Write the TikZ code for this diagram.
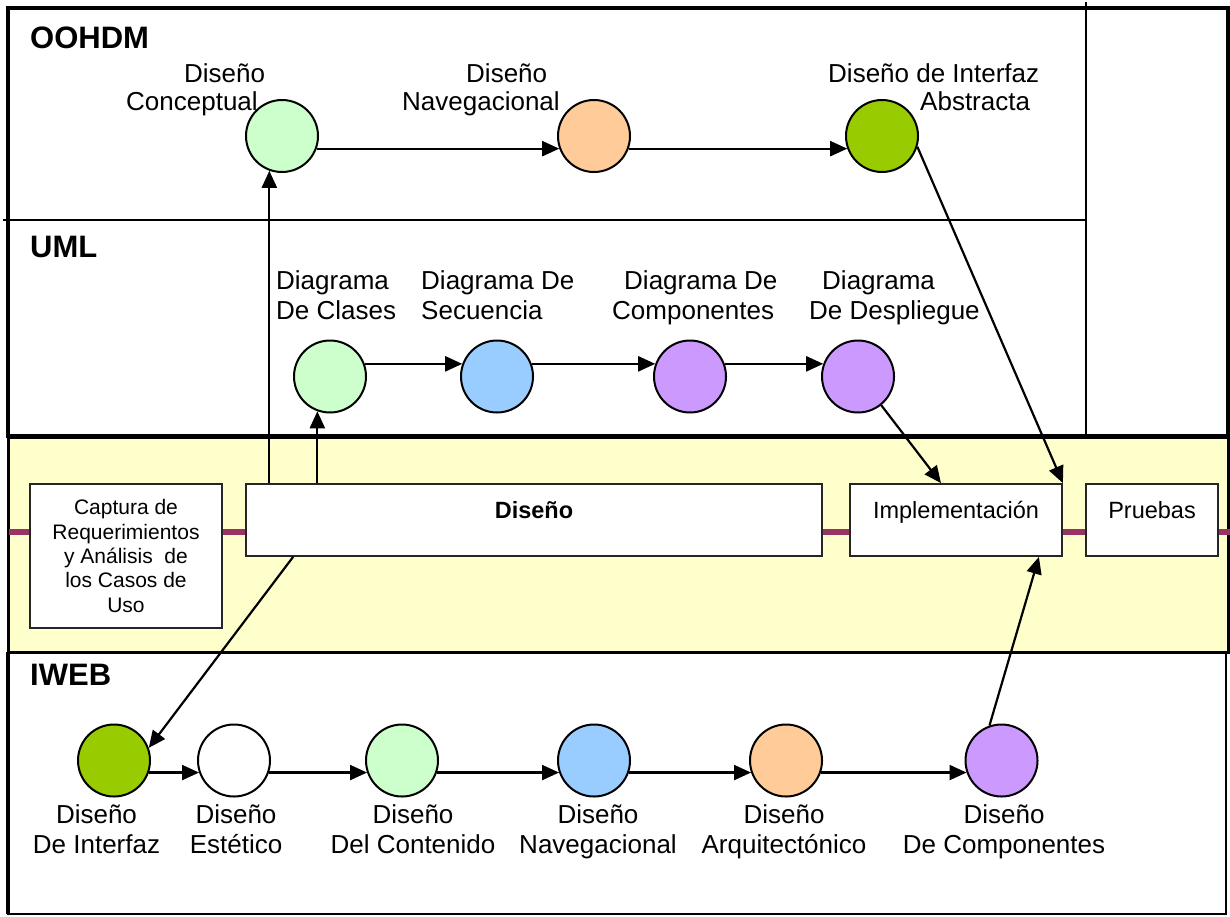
\documentclass[tikz,border=0pt]{standalone}
\usepackage{fontspec}
\setmainfont{Liberation Sans}
\usetikzlibrary{arrows.meta,calc}
\definecolor{cLG}{HTML}{CCFFCC}
\definecolor{cPeach}{HTML}{FFCC99}
\definecolor{cGreen}{HTML}{99CC00}
\definecolor{cBlue}{HTML}{99CCFF}
\definecolor{cLav}{HTML}{CC99FF}
\definecolor{bandY}{HTML}{FFFFCC}
\definecolor{magLine}{HTML}{993366}
\begin{document}
\begin{tikzpicture}[x=1pt,y=-1pt,
  circ/.style={circle, draw=black, line width=2pt, minimum size=72pt, inner sep=0pt},
  flow/.style={-{Triangle[length=17pt,width=15pt]}, line width=2.2pt},
  lab/.style={font=\fontsize{26}{30}\selectfont, inner sep=0pt},
  labO/.style={font=\fontsize{26}{28}\selectfont, inner sep=0pt},
  sect/.style={font=\fontsize{31}{34}\selectfont\bfseries, inner sep=0pt, anchor=base west},
  box/.style={draw=black!85, line width=1.8pt, fill=white, inner sep=0pt, minimum height=72pt},
  boxtxt/.style={font=\fontsize{23.5}{27}\selectfont, text height=17pt, text depth=21pt}
]
\useasboundingbox (0,0) rectangle (1230,916);
% panels
\draw[line width=3.5pt] (8,8) rectangle (1228,436);
\draw[line width=1.8pt] (1086,2) -- (1086,436);
\draw[line width=1.8pt] (3,220) -- (1086,220);
\draw[line width=2pt] (8,652) rectangle (1226,914);
\draw[line width=3.5pt] (8,652) -- (8,914);
\draw[fill=bandY, line width=3pt] (8,437) rectangle (1228,652);
\draw[magLine, line width=5.5pt] (9,532) -- (1230,532);
% section titles
\node[sect] (tOOHDM) at (30,48) {OOHDM};
\node[sect] (tUML) at (30,257) {UML};
\node[sect] (tIWEB) at (30,685) {IWEB};
% phase boxes
\node[box, minimum width=192pt, minimum height=144pt, align=center,
      font=\fontsize{21}{24.3}\selectfont] (cap) at (126,556)
      {Captura de\\Requerimientos\\y Análisis~ de\\los Casos de\\Uso};
\node[box, boxtxt, minimum width=576pt, font=\fontsize{23.5}{27}\selectfont\bfseries] (dis) at (534,520) {Diseño};
\node[box, boxtxt, minimum width=212pt] (impl) at (956,520) {Implementación};
\node[box, boxtxt, minimum width=132pt] (pru) at (1152,520) {Pruebas};
% OOHDM circles
\node[circ, fill=cLG] (conc) at (282,136) {};
\node[circ, fill=cPeach] (navO) at (594,136) {};
\node[circ, fill=cGreen] (abs) at (882,136) {};
% UML circles
\node[circ, fill=cLG] (cla) at (330,376.5) {};
\node[circ, fill=cBlue] (sec) at (497,376.5) {};
\node[circ, fill=cLav] (cmpU) at (690,376.5) {};
\node[circ, fill=cLav] (desp) at (858,376.5) {};
% IWEB circles
\node[circ, fill=cGreen] (int) at (114,760.5) {};
\node[circ, fill=white] (est) at (234,760.5) {};
\node[circ, fill=cLG] (cont) at (402,760.5) {};
\node[circ, fill=cBlue] (navI) at (594,760.5) {};
\node[circ, fill=cPeach] (arq) at (786,760.5) {};
\node[circ, fill=cLav] (cmpI) at (1001.5,760.5) {};
% labels OOHDM (anchored at the baseline of their last line)
\node[labO, align=left, anchor=base west] (lConc) at (126,110) {\hspace*{58pt}Diseño\\Conceptual};
\node[labO, align=left, anchor=base west] (lNavO) at (402,110) {\hspace*{64pt}Diseño\\Navegacional};
\node[labO, align=left, anchor=base west] (lAbs) at (828,110) {Diseño de Interfaz\\\hspace*{92pt}Abstracta};
% labels UML
\node[lab, align=left, anchor=base west] (lCla) at (276,319) {Diagrama\\De Clases};
\node[lab, align=left, anchor=base west] (lSec) at (421,319) {Diagrama De\\Secuencia};
\node[lab, align=left, anchor=base west] (lCmpU) at (612,319) {\hspace*{12pt}Diagrama De\\Componentes};
\node[lab, align=left, anchor=base west] (lDesp) at (809,319) {\hspace*{13pt}Diagrama\\De Despliegue};
% labels IWEB
\node[lab, align=center, anchor=base] (lInt) at (96.5,853) {Diseño\\De Interfaz};
\node[lab, align=center, anchor=base] (lEst) at (236,853) {Diseño\\Estético};
\node[lab, align=center, anchor=base] (lCont) at (413,853) {Diseño\\Del Contenido};
\node[lab, align=center, anchor=base] (lNavI) at (598,853) {Diseño\\Navegacional};
\node[lab, align=center, anchor=base] (lArq) at (784,853) {Diseño\\Arquitectónico};
\node[lab, align=center, anchor=base] (lCmpI) at (1004,853) {Diseño\\De Componentes};
% flows
\draw[flow] (conc.-20) -- (navO.200);
\draw[flow] (navO.-20) -- (abs.200);
\draw[flow] (cla.20) -- (sec.160);
\draw[flow] (sec.20) -- (cmpU.160);
\draw[flow] (cmpU.20) -- (desp.160);
\draw[flow] (int.-19) -- (est.199);
\draw[flow] (est.-19) -- (cont.199);
\draw[flow] (cont.-19) -- (navI.199);
\draw[flow] (navI.-19) -- (arq.199);
\draw[flow] (arq.-19) -- (cmpI.199);
% cross connectors
\draw[flow] (conc.250 |- dis.north) -- (conc.250);
\draw[flow] (cla.250 |- dis.north) -- (cla.250);
\draw[flow] (abs.-17) -- (impl.north east);
\draw[flow] (desp.-51) -- ($(impl.north)+(-15,0)$);
\draw[flow] ($(dis.south west)+(48,0)$) -- (int.20);
\draw[flow] (cmpI.109) -- ($(impl.south east)+(-24,0)$);
\end{tikzpicture}
\end{document}
